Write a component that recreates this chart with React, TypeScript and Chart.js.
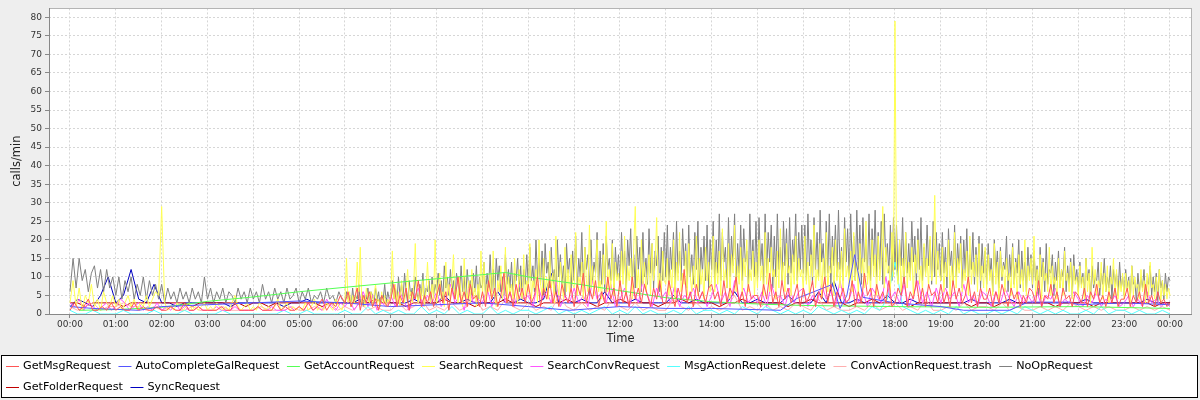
import React, { useEffect, useRef } from "react";
import { Chart, registerables } from "chart.js";

Chart.register(...registerables);

// ---------- labels ----------
const SERIES_NAMES = [
  "GetMsgRequest",
  "AutoCompleteGalRequest",
  "GetAccountRequest",
  "SearchRequest",
  "SearchConvRequest",
  "MsgActionRequest.delete",
  "ConvActionRequest.trash",
  "NoOpRequest",
  "GetFolderRequest",
  "SyncRequest",
];
const SERIES_COLORS = [
  "#FF5555",
  "#5555FF",
  "#55FF55",
  "#FFFF55",
  "#FF55FF",
  "#55FFFF",
  "#FFAFAF",
  "#808080",
  "#C00000",
  "#0000C0",
];
const X_TICK_LABELS = [
  "00:00", "01:00", "02:00", "03:00", "04:00", "05:00", "06:00", "07:00", "08:00",
  "09:00", "10:00", "11:00", "12:00", "13:00", "14:00", "15:00", "16:00", "17:00",
  "18:00", "19:00", "20:00", "21:00", "22:00", "23:00", "00:00",
];
const Y_TICKS = [0, 5, 10, 15, 20, 25, 30, 35, 40, 45, 50, 55, 60, 65, 70, 75, 80];

// ---------- series values ----------
// NoOpRequest 00:00-06:00, 4-minute samples
const NOOP_NIGHT = [
  6, 15, 7, 15, 9, 12, 6, 11, 13, 7, 12, 6, 12, 7, 10,
  5, 10, 4, 9, 6, 10, 4, 8, 5, 10, 4, 9, 5, 8, 4,
  8, 3, 7, 4, 6, 3, 7, 4, 6, 3, 7, 4, 6, 3, 10,
  4, 7, 3, 6, 4, 7, 3, 6, 5, 3, 7, 4, 6, 3, 7,
  4, 6, 3, 8, 4, 6, 3, 7, 4, 6, 3, 7, 4, 5, 7,
  3, 6, 4, 7, 3, 5, 4, 6, 3, 7, 4, 5, 3, 6, 4,
];
// NoOpRequest 06:00-24:00, 2-minute samples
const NOOP_DAY = [
  3, 6, 4, 5, 2, 7, 3, 5, 4, 8, 3, 6, 2, 5, 4, 7, 3, 6, 5, 3, 7, 4, 6, 2, 5, 4, 8, 3, 6, 4,
  5, 9, 4, 7, 3, 10, 5, 8, 4, 11, 6, 3, 9, 5, 7, 4, 10, 6, 3, 8, 5, 11, 4, 7, 6, 9, 3, 10, 5, 8,
  6, 11, 5, 9, 4, 13, 7, 10, 5, 12, 6, 9, 4, 11, 8, 5, 13, 6, 10, 4, 12, 7, 9, 5, 11, 6, 13, 4, 10, 7,
  8, 14, 5, 11, 7, 16, 6, 12, 4, 15, 9, 13, 6, 10, 5, 16, 8, 12, 7, 14, 5, 11, 9, 15, 6, 13, 4, 12, 8, 16,
  7, 18, 9, 13, 6, 20, 10, 15, 8, 17, 5, 19, 11, 14, 7, 18, 9, 12, 6, 20, 10, 16, 8, 13, 5, 19, 11, 15, 7, 17,
  9, 21, 7, 15, 10, 22, 6, 18, 12, 16, 5, 20, 9, 14, 11, 22, 7, 17, 8, 19, 6, 21, 12, 15, 9, 20, 5, 18, 10, 16,
  8, 22, 11, 17, 6, 20, 13, 23, 9, 16, 7, 21, 12, 18, 6, 22, 10, 15, 8, 23, 11, 19, 7, 17, 13, 21, 6, 18, 9, 22,
  10, 24, 7, 18, 12, 22, 6, 25, 11, 17, 9, 23, 13, 19, 7, 24, 10, 16, 8, 22, 12, 25, 6, 18, 11, 21, 9, 24, 7, 20,
  12, 25, 8, 20, 11, 27, 9, 22, 14, 18, 7, 26, 10, 21, 13, 27, 8, 19, 11, 24, 9, 23, 14, 17, 8, 27, 12, 20, 10, 25,
  9, 26, 13, 19, 8, 27, 11, 22, 14, 24, 7, 21, 10, 27, 12, 18, 9, 25, 13, 23, 8, 26, 11, 20, 14, 27, 9, 22, 12, 24,
  11, 24, 9, 27, 13, 20, 8, 26, 12, 22, 10, 28, 14, 19, 9, 25, 11, 27, 8, 21, 13, 24, 10, 28, 12, 18, 9, 26, 14, 23,
  10, 27, 13, 21, 9, 28, 12, 24, 8, 26, 14, 20, 11, 27, 9, 23, 13, 28, 10, 22, 12, 25, 8, 27, 14, 19, 11, 24, 9, 26,
  12, 24, 9, 20, 13, 26, 8, 22, 11, 19, 10, 25, 14, 21, 8, 23, 12, 26, 9, 18, 11, 24, 13, 20, 8, 25, 10, 22, 12, 19,
  9, 22, 11, 18, 7, 23, 13, 17, 8, 24, 10, 19, 12, 21, 7, 20, 11, 23, 9, 16, 12, 22, 8, 18, 10, 21, 7, 19, 11, 17,
  8, 19, 10, 15, 6, 20, 11, 17, 7, 18, 9, 14, 12, 21, 6, 16, 10, 19, 8, 15, 11, 20, 7, 17, 9, 14, 6, 18, 10, 16,
  7, 17, 9, 13, 5, 18, 10, 15, 6, 19, 8, 12, 11, 16, 5, 14, 9, 17, 7, 12, 10, 18, 6, 13, 8, 15, 5, 16, 9, 12,
  6, 14, 8, 11, 5, 15, 9, 12, 4, 13, 7, 10, 9, 14, 5, 11, 8, 15, 6, 10, 7, 13, 4, 12, 8, 11, 5, 14, 7, 10,
  5, 12, 7, 10, 4, 13, 8, 9, 3, 11, 6, 10, 7, 12, 4, 9, 8, 13, 5, 10, 6, 11, 3, 12, 7, 9, 4, 11, 6, 10,
  9,
];

// SearchRequest 00:00-06:00, 4-minute samples
const SEARCH_NIGHT = [
  3, 9, 2, 7, 1, 5, 3, 8, 2, 4, 1, 6, 3, 2, 5,
  2, 4, 1, 3, 5, 2, 4, 1, 3, 2, 5, 2, 4, 6, 5,
  29, 3, 1, 2, 1, 3, 2, 1, 2, 3, 1, 2, 1, 2, 3,
  1, 2, 1, 3, 2, 1, 2, 1, 3, 5, 2, 1, 2, 3, 1,
  2, 1, 3, 2, 1, 2, 1, 2, 4, 1, 2, 3, 1, 2, 1,
  2, 1, 3, 1, 2, 4, 1, 2, 1, 3, 2, 1, 4, 2, 1,
];
// SearchRequest 06:00-24:00, 2-minute samples
const SEARCH_DAY = [
  4, 15, 3, 6, 2, 5, 3, 4, 14, 6, 18, 3, 5, 2, 7, 4, 3, 6, 2, 5, 8, 3, 4, 2, 6, 3, 5, 2, 4, 3,
  5, 17, 4, 8, 3, 6, 2, 9, 5, 3, 7, 12, 4, 6, 3, 8, 19, 5, 3, 7, 4, 9, 2, 6, 14, 5, 3, 8, 4, 20,
  3, 7, 11, 4, 6, 2, 14, 5, 8, 3, 9, 16, 4, 7, 3, 10, 5, 2, 15, 6, 4, 9, 3, 12, 5, 7, 2, 8, 4, 17,
  5, 14, 3, 8, 6, 11, 4, 17, 5, 2, 9, 6, 13, 4, 7, 18, 3, 10, 5, 8, 4, 15, 6, 3, 12, 7, 4, 16, 5, 9,
  6, 19, 4, 9, 7, 12, 3, 20, 8, 5, 15, 6, 10, 4, 17, 7, 11, 3, 21, 8, 5, 14, 9, 4, 18, 6, 12, 5, 16, 8,
  7, 22, 5, 10, 8, 14, 4, 18, 9, 6, 24, 7, 13, 5, 11, 20, 6, 9, 4, 16, 8, 25, 6, 12, 7, 19, 5, 14, 9, 11,
  6, 17, 8, 21, 5, 13, 9, 15, 4, 18, 29, 7, 12, 5, 20, 8, 14, 6, 10, 16, 5, 19, 9, 13, 26, 7, 11, 5, 17, 9,
  8, 15, 5, 12, 7, 20, 4, 14, 9, 22, 6, 11, 8, 17, 5, 19, 10, 6, 13, 7, 21, 5, 15, 8, 12, 4, 18, 9, 14, 6,
  10, 21, 6, 14, 8, 17, 5, 23, 9, 12, 7, 19, 4, 16, 11, 24, 6, 13, 8, 18, 5, 15, 10, 20, 6, 12, 9, 17, 5, 14,
  7, 20, 9, 13, 5, 22, 8, 15, 6, 18, 10, 12, 4, 17, 7, 23, 9, 14, 6, 19, 11, 13, 5, 16, 8, 21, 7, 15, 10, 12,
  6, 21, 8, 14, 5, 16, 10, 24, 7, 12, 9, 19, 4, 15, 8, 22, 6, 13, 11, 18, 5, 20, 9, 14, 7, 17, 6, 23, 10, 13,
  8, 17, 6, 22, 9, 14, 5, 19, 11, 15, 7, 25, 8, 13, 6, 20, 10, 16, 5, 21, 9, 14, 29, 7, 18, 11, 13, 6, 22, 10,
  79, 12, 8, 20, 6, 15, 10, 22, 7, 14, 9, 18, 5, 16, 11, 20, 8, 13, 6, 19, 10, 15, 7, 21, 9, 12, 32, 8, 17, 11,
  9, 18, 6, 14, 10, 20, 5, 13, 8, 22, 7, 15, 11, 19, 6, 12, 9, 17, 5, 21, 8, 14, 10, 16, 6, 19, 9, 13, 7, 18,
  6, 16, 9, 12, 5, 19, 8, 14, 4, 17, 10, 13, 6, 15, 9, 11, 5, 18, 7, 14, 4, 16, 8, 12, 6, 20, 5, 13, 9, 15,
  8, 21, 5, 12, 7, 16, 4, 14, 9, 11, 6, 18, 5, 13, 8, 10, 4, 15, 7, 12, 5, 17, 9, 11, 6, 14, 4, 13, 8, 10,
  5, 13, 7, 10, 4, 15, 6, 11, 3, 18, 8, 12, 5, 9, 7, 14, 4, 11, 6, 13, 3, 10, 8, 15, 5, 12, 4, 9, 6, 11,
  4, 11, 6, 9, 3, 13, 5, 10, 7, 8, 4, 12, 6, 9, 3, 11, 5, 14, 7, 8, 4, 10, 6, 12, 3, 9, 5, 8, 4, 7,
  5,
];

// GetMsgRequest 00:00-06:00, 6-minute samples
const GET_MSG_NIGHT = [
  1, 3, 1, 2, 4, 1, 1, 2, 1, 3,
  1, 2, 1, 1, 3, 1, 2, 1, 1, 2,
  1, 1, 2, 1, 1, 3, 1, 1, 2, 1,
  1, 1, 1, 2, 1, 1, 3, 1, 1, 1,
  1, 2, 1, 1, 1, 3, 1, 2, 1, 1,
  2, 1, 3, 1, 2, 4, 1, 3, 2, 5,
];
// GetMsgRequest 06:00-24:00, 4-minute samples
const GET_MSG_DAY = [
  3, 6, 2, 4, 7, 1, 5, 3, 6, 2, 4, 1, 5, 3, 2,
  4, 8, 2, 5, 3, 7, 1, 6, 4, 9, 2, 5, 3, 6, 2,
  5, 8, 3, 6, 1, 7, 4, 10, 3, 6, 2, 8, 4, 5, 2,
  6, 2, 9, 4, 7, 2, 5, 11, 3, 6, 2, 8, 4, 7, 3,
  8, 3, 5, 10, 2, 7, 4, 9, 3, 6, 2, 8, 5, 3, 7,
  2, 8, 5, 11, 3, 7, 4, 9, 2, 6, 3, 10, 4, 7, 2,
  9, 3, 6, 2, 10, 4, 7, 3, 8, 5, 2, 7, 4, 9, 3,
  3, 9, 5, 2, 7, 4, 12, 3, 6, 2, 8, 4, 6, 3, 7,
  8, 4, 6, 2, 9, 3, 7, 5, 10, 3, 6, 2, 8, 4, 5,
  5, 2, 8, 4, 11, 3, 6, 2, 9, 4, 7, 3, 5, 8, 2,
  7, 3, 5, 9, 2, 6, 4, 10, 3, 8, 2, 6, 4, 7, 3,
  4, 9, 2, 6, 3, 11, 5, 7, 2, 8, 4, 6, 3, 9, 2,
  3, 7, 5, 10, 2, 6, 4, 9, 3, 7, 2, 8, 5, 6, 3,
  8, 3, 6, 2, 9, 4, 7, 3, 5, 10, 3, 6, 2, 7, 4,
  4, 7, 2, 6, 3, 8, 5, 2, 7, 4, 6, 2, 5, 3, 7,
  6, 3, 9, 2, 5, 4, 8, 3, 6, 2, 7, 4, 5, 2, 6,
  5, 3, 7, 2, 6, 4, 8, 3, 5, 2, 6, 3, 7, 2, 4,
  4, 7, 2, 5, 3, 6, 2, 8, 3, 5, 2, 6, 3, 4, 2,
  3,
];

// SearchConvRequest 00:00-24:00, 6-minute samples
const SEARCH_CONV = [
  3, 2, 4, 1, 3, 2, 1, 2, 3, 1,
  2, 4, 3, 1, 2, 3, 1, 2, 1, 3,
  1, 2, 1, 3, 1, 2, 1, 1, 2, 1,
  1, 1, 2, 1, 1, 1, 2, 1, 1, 1,
  1, 2, 1, 1, 2, 1, 1, 1, 2, 1,
  2, 1, 3, 1, 2, 1, 4, 2, 1, 3,
  2, 4, 1, 3, 6, 2, 5, 1, 3, 2,
  5, 2, 6, 3, 1, 4, 7, 2, 5, 3,
  6, 2, 4, 8, 3, 5, 1, 7, 3, 4,
  3, 7, 2, 5, 9, 3, 6, 2, 8, 4,
  5, 2, 8, 4, 6, 3, 9, 2, 5, 3,
  7, 3, 5, 2, 9, 4, 6, 3, 8, 2,
  4, 7, 2, 6, 3, 9, 5, 2, 7, 4,
  6, 3, 8, 2, 5, 4, 7, 3, 6, 2,
  5, 8, 3, 6, 2, 9, 4, 7, 3, 5,
  3, 6, 2, 8, 4, 5, 2, 7, 3, 6,
  7, 2, 5, 3, 8, 4, 6, 2, 9, 3,
  4, 8, 3, 6, 2, 7, 5, 3, 10, 4,
  6, 3, 8, 2, 5, 9, 3, 6, 2, 7,
  3, 7, 4, 6, 2, 8, 3, 5, 2, 6,
  5, 2, 6, 3, 7, 4, 2, 6, 3, 5,
  3, 6, 2, 5, 4, 7, 2, 4, 3, 6,
  4, 2, 5, 3, 6, 2, 4, 3, 5, 2,
  3, 5, 2, 4, 2, 6, 3, 4, 2, 3,
  2,
];

// SyncRequest, 10-minute samples
const SYNC = [
  2, 4, 3, 2, 5, 10,
  3, 5, 12, 4, 3, 8,
  3, 3, 2, 3, 3, 3,
  3, 3, 3, 2, 3, 3,
  3, 3, 3, 3, 2, 3,
  3, 4, 3, 3, 3, 3,
  3, 3, 4, 3, 3, 5,
  3, 3, 3, 4, 3, 3,
  3, 5, 3, 3, 4, 3,
  3, 3, 6, 3, 3, 4,
  3, 3, 4, 11, 3, 3,
  3, 4, 3, 3, 6, 3,
  3, 3, 4, 3, 3, 3,
  3, 5, 3, 3, 4, 3,
  3, 3, 3, 6, 3, 3,
  4, 3, 3, 3, 5, 3,
  3, 3, 6, 3, 9, 3,
  3, 4, 3, 3, 3, 5,
  3, 3, 4, 3, 3, 3,
  3, 3, 3, 3, 4, 3,
  3, 3, 3, 4, 3, 3,
  3, 3, 3, 3, 3, 3,
  3, 4, 3, 3, 3, 3,
  3, 3, 3, 4, 3, 3,
  3,
];

// GetFolderRequest, 10-minute samples
const GET_FOLDER = [
  3, 3, 2, 3, 3, 3,
  3, 2, 3, 3, 3, 3,
  3, 3, 3, 3, 2, 3,
  3, 3, 3, 3, 3, 2,
  3, 3, 2, 3, 3, 3,
  3, 3, 3, 2, 3, 3,
  3, 3, 3, 3, 4, 3,
  3, 3, 2, 3, 3, 3,
  3, 4, 3, 3, 3, 2,
  3, 3, 3, 4, 3, 3,
  3, 2, 3, 3, 3, 4,
  3, 3, 3, 2, 3, 3,
  4, 3, 3, 3, 3, 2,
  3, 3, 4, 3, 3, 3,
  3, 2, 3, 3, 4, 3,
  3, 3, 3, 3, 2, 3,
  3, 4, 3, 3, 3, 3,
  2, 3, 3, 4, 3, 3,
  3, 3, 2, 3, 3, 3,
  3, 3, 3, 3, 2, 3,
  3, 2, 3, 3, 3, 3,
  3, 3, 3, 2, 3, 3,
  3, 3, 2, 3, 3, 3,
  3, 3, 3, 3, 2, 3,
  3,
];

// MsgActionRequest.delete, 10-minute samples
const MSG_DELETE = [
  1, 0, 0, 1, 0, 0,
  0, 1, 0, 0, 0, 1,
  0, 0, 0, 1, 0, 0,
  0, 0, 1, 0, 0, 0,
  0, 0, 0, 0, 1, 0,
  0, 1, 0, 0, 0, 0,
  1, 0, 0, 2, 0, 1,
  0, 1, 0, 0, 2, 0,
  1, 0, 2, 0, 1, 0,
  0, 2, 0, 1, 0, 1,
  1, 0, 1, 2, 0, 1,
  0, 1, 0, 1, 2, 0,
  1, 0, 2, 0, 1, 0,
  0, 1, 0, 2, 0, 1,
  1, 0, 1, 0, 2, 1,
  0, 2, 1, 0, 1, 0,
  1, 0, 2, 1, 0, 1,
  0, 1, 0, 2, 1, 4,
  14, 2, 1, 0, 1, 0,
  1, 0, 2, 0, 1, 0,
  0, 1, 0, 1, 0, 2,
  1, 0, 1, 0, 1, 0,
  0, 1, 0, 2, 0, 1,
  1, 0, 1, 0, 0, 1,
  0,
];

// ConvActionRequest.trash, 10-minute samples
const CONV_TRASH = [
  2, 1, 2, 3, 1, 2,
  2, 3, 2, 2, 1, 2,
  1, 2, 1, 1, 2, 1,
  1, 1, 2, 1, 1, 1,
  1, 2, 1, 1, 1, 2,
  1, 1, 2, 1, 3, 1,
  2, 1, 3, 1, 2, 1,
  1, 3, 1, 2, 4, 1,
  2, 1, 3, 1, 2, 5,
  1, 2, 1, 4, 2, 1,
  3, 1, 2, 1, 5, 2,
  1, 3, 1, 2, 1, 4,
  2, 1, 3, 1, 2, 1,
  1, 4, 2, 1, 3, 1,
  2, 1, 2, 5, 1, 2,
  1, 3, 1, 2, 1, 3,
  2, 1, 4, 1, 2, 1,
  1, 2, 1, 3, 1, 2,
  3, 1, 2, 1, 4, 1,
  1, 2, 1, 3, 1, 2,
  2, 1, 3, 1, 2, 1,
  1, 2, 1, 2, 1, 3,
  2, 1, 2, 1, 2, 1,
  1, 2, 1, 2, 1, 2,
  1,
];

// AutoCompleteGalRequest, irregular samples (hour of day, calls/min)
const AUTOCOMPLETE_TIMES = [
  0.0, 0.5, 1.5, 2.0, 3.0, 4.0, 5.0, 6.0, 7.0, 8.0, 9.0, 10.0, 10.9, 12.0, 13.0, 14.0,
  15.5, 15.86, 16.64, 16.8, 16.95, 17.12, 17.3, 18.0, 19.0, 19.5, 20.5, 20.9, 21.8, 22.0,
  23.0, 24.0,
];
const AUTOCOMPLETE_VALUES = [
  2, 1.5, 1, 2, 2.5, 3, 3.5, 3, 2, 2.5, 3, 2, 1, 2, 1.5, 1.5,
  1, 4.2, 8, 1.5, 5, 16, 4.5, 3, 2, 1, 1, 3.2, 3.2, 2.5,
  3, 2.5,
];

// GetAccountRequest, irregular samples (hour of day, calls/min)
const ACCOUNT_TIMES = [
  0.2, 1.0, 2.0, 3.0, 4.0, 5.0, 6.0, 7.2, 8.0, 9.0, 9.5, 10.0, 10.5, 11.0, 12.0, 13.0,
  14.0, 15.0, 16.0, 18.0, 20.0, 22.0, 24.0,
];
const ACCOUNT_VALUES = [
  1, 1.2, 1.8, 3.4, 4.6, 6.0, 7.2, 8.6, 9.5, 10.6, 11.2, 10, 9.1, 8.2, 6.3, 4.4,
  3.3, 2.7, 2.3, 2, 1.8, 2, 1.5,
];

// ---------- helpers (sample index -> time of day) ----------
function spanOpen(start: number, end: number, values: number[]) {
  const step = (end - start) / values.length;
  return values.map((v, i) => ({ x: start + i * step, y: v }));
}
function spanClosed(start: number, end: number, values: number[]) {
  const step = (end - start) / (values.length - 1);
  return values.map((v, i) => ({ x: start + i * step, y: v }));
}
function paired(times: number[], values: number[]) {
  return times.map((t, i) => ({ x: t, y: values[i] }));
}

const FONT = "'DejaVu Sans', 'Noto Sans', sans-serif";

const chromePlugin = {
  id: "chrome",
  beforeDraw(chart: any) {
    const { ctx, chartArea: a } = chart;
    ctx.save();
    ctx.fillStyle = "#EEEEEE";
    ctx.fillRect(0, 0, chart.width, chart.height);
    ctx.fillStyle = "#FFFFFF";
    ctx.fillRect(a.left, a.top, a.right - a.left, a.bottom - a.top);
    ctx.restore();
  },
  afterDraw(chart: any) {
    const { ctx, chartArea: a } = chart;
    ctx.save();
    ctx.lineWidth = 1;
    ctx.strokeStyle = "#B4B4B4";
    ctx.strokeRect(
      Math.round(a.left) + 0.5,
      Math.round(a.top) + 0.5,
      Math.round(a.right - a.left) - 1,
      Math.round(a.bottom - a.top)
    );
    ctx.strokeStyle = "#888888";
    ctx.beginPath();
    ctx.moveTo(Math.round(a.left) + 0.5, Math.round(a.top));
    ctx.lineTo(Math.round(a.left) + 0.5, Math.round(a.bottom) + 1);
    ctx.moveTo(Math.round(a.left), Math.round(a.bottom) + 0.5);
    ctx.lineTo(Math.round(a.right), Math.round(a.bottom) + 0.5);
    ctx.stroke();

    // legend box
    ctx.fillStyle = "#FFFFFF";
    ctx.fillRect(2, 356, 1196, 42);
    ctx.strokeStyle = "#000000";
    ctx.strokeRect(1.5, 355.5, 1196, 42);
    ctx.font = `11.2px ${FONT}`;
    ctx.textBaseline = "middle";
    ctx.textAlign = "left";
    let x = 6;
    let y = 366;
    SERIES_NAMES.forEach((name, i) => {
      const w = ctx.measureText(name).width;
      if (x + 17 + w > 1194) {
        x = 6;
        y = 387;
      }
      ctx.strokeStyle = SERIES_COLORS[i];
      ctx.lineWidth = 1;
      ctx.beginPath();
      ctx.moveTo(x, y + 0.5);
      ctx.lineTo(x + 13, y + 0.5);
      ctx.stroke();
      ctx.fillStyle = "#000000";
      ctx.fillText(name, x + 17, y + 0.5);
      x += 17 + w + 7.5;
    });
    ctx.restore();
  },
};

export default function App() {
  const ref = useRef<HTMLCanvasElement | null>(null);

  useEffect(() => {
    if (!ref.current) return;
    const seriesData = [
      [...spanOpen(0, 6, GET_MSG_NIGHT), ...spanClosed(6, 24, GET_MSG_DAY)],
      paired(AUTOCOMPLETE_TIMES, AUTOCOMPLETE_VALUES),
      paired(ACCOUNT_TIMES, ACCOUNT_VALUES),
      [...spanOpen(0, 6, SEARCH_NIGHT), ...spanClosed(6, 24, SEARCH_DAY)],
      spanClosed(0, 24, SEARCH_CONV),
      spanClosed(0, 24, MSG_DELETE),
      spanClosed(0, 24, CONV_TRASH),
      [...spanOpen(0, 6, NOOP_NIGHT), ...spanClosed(6, 24, NOOP_DAY)],
      spanClosed(0, 24, GET_FOLDER),
      spanClosed(0, 24, SYNC),
    ];
    const chart = new Chart(ref.current, {
      type: "line",
      data: {
        datasets: SERIES_NAMES.map((name, i) => ({
          label: name,
          data: seriesData[i],
          borderColor: SERIES_COLORS[i],
          backgroundColor: SERIES_COLORS[i],
          borderWidth: 1,
          pointRadius: 0,
          pointHoverRadius: 0,
          tension: 0,
          fill: false,
        })),
      },
      options: {
        animation: false,
        responsive: false,
        devicePixelRatio: 1,
        parsing: false as any,
        normalized: true,
        events: [],
        layout: { padding: { left: 0, top: 4, right: 8, bottom: 0 } },
        plugins: {
          legend: { display: false },
          tooltip: { enabled: false },
          title: { display: false },
        },
        scales: {
          x: {
            type: "linear",
            min: -0.458,
            max: 24.48,
            afterFit: (s: any) => {
              s.height = 86;
            },
            afterBuildTicks: (s: any) => {
              s.ticks = X_TICK_LABELS.map((_, i) => ({ value: i }));
            },
            ticks: {
              autoSkip: false,
              maxRotation: 0,
              minRotation: 0,
              padding: 1,
              color: "#333333",
              font: { family: FONT, size: 9 },
              callback: (_v: any, i: number) => X_TICK_LABELS[i],
            },
            grid: {
              color: "#D6D6D6",
              lineWidth: 1,
              drawTicks: true,
              tickLength: 4,
              tickColor: "#888888",
              tickWidth: 1,
            },
            border: { display: false, dash: [2, 2] },
            title: {
              display: true,
              text: "Time",
              color: "#222222",
              font: { family: FONT, size: 11.5 },
              padding: { top: 0, bottom: 53.6 },
            },
          },
          y: {
            type: "linear",
            min: 0,
            max: 82.4,
            afterFit: (s: any) => {
              s.width = 49;
            },
            afterBuildTicks: (s: any) => {
              s.ticks = Y_TICKS.map((v) => ({ value: v }));
            },
            ticks: {
              autoSkip: false,
              padding: 3,
              color: "#333333",
              font: { family: FONT, size: 9 },
              callback: (v: any) => String(v),
            },
            grid: {
              color: "#D6D6D6",
              lineWidth: 1,
              drawTicks: true,
              tickLength: 4,
              tickColor: "#888888",
              tickWidth: 1,
            },
            border: { display: false, dash: [2, 2] },
            title: {
              display: true,
              text: "calls/min",
              color: "#222222",
              font: { family: FONT, size: 11.5 },
              padding: { top: 10.1, bottom: 0 },
            },
          },
        },
      },
      plugins: [chromePlugin],
    });
    return () => chart.destroy();
  }, []);

  return (
    <div style={{ position: "fixed", left: 0, top: 0, width: 1200, height: 400 }}>
      <canvas ref={ref} width={1200} height={400} style={{ display: "block" }} />
    </div>
  );
}
